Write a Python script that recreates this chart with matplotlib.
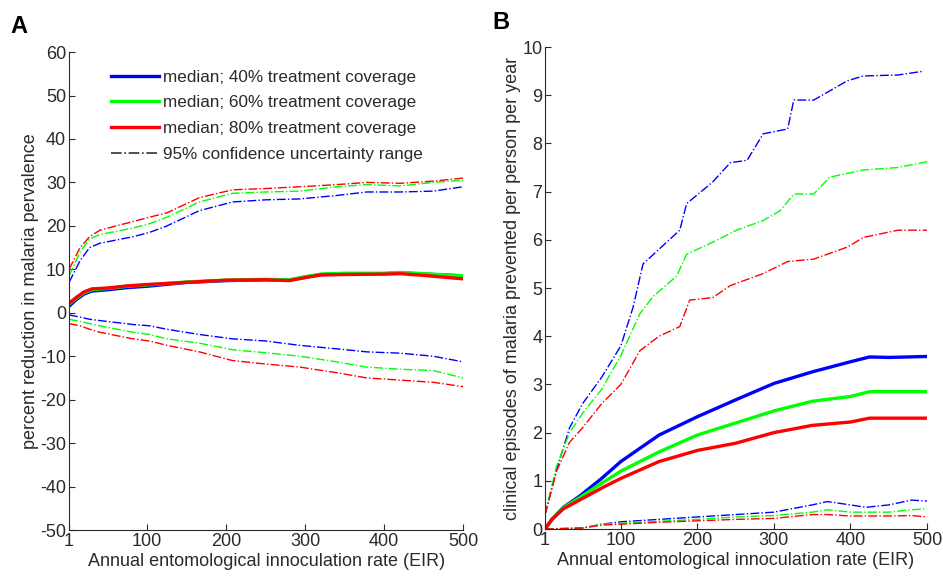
import numpy as np
import matplotlib.pyplot as plt

plt.rcParams['font.family'] = ['Liberation Sans', 'DejaVu Sans']
plt.rcParams['axes.unicode_minus'] = False

# ===== Panel A: percent reduction in prevalence =====
eir_a_med = [1, 10, 20, 30, 50, 75, 100, 150, 200, 250, 280, 300, 320, 350, 400, 420, 450, 500]
a_med_40 = [1.5, 3.0, 4.3, 5.0, 5.3, 5.8, 6.1, 7.0, 7.4, 7.6, 7.5, 8.2, 8.8, 9.0, 9.0, 9.2, 8.9, 8.5]
a_med_60 = [2.0, 3.3, 4.6, 5.3, 5.6, 6.1, 6.4, 7.1, 7.5, 7.7, 7.6, 8.3, 8.9, 9.1, 9.1, 9.3, 9.0, 8.5]
a_med_80 = [2.2, 3.5, 4.8, 5.5, 5.7, 6.2, 6.5, 7.0, 7.5, 7.6, 7.4, 8.1, 8.7, 8.8, 8.9, 9.0, 8.6, 7.8]

eir_a_ci = [1, 15, 27, 40, 82, 103, 125, 166, 208, 250, 293, 340, 378, 420, 462, 500]
a_hi_40 = [7.0, 12.0, 15.0, 16.0, 17.5, 18.5, 20.0, 23.5, 25.5, 26.0, 26.2, 27.0, 27.8, 27.8, 28.0, 29.0]
a_hi_60 = [8.5, 14.0, 17.0, 18.0, 19.5, 20.5, 22.0, 25.5, 27.5, 27.8, 28.0, 29.0, 29.5, 29.2, 30.0, 30.5]
a_hi_80 = [10.0, 15.0, 17.5, 19.0, 21.0, 22.0, 23.0, 26.5, 28.3, 28.6, 29.0, 29.5, 30.0, 29.8, 30.3, 31.0]
a_lo_40 = [-0.5, -1.0, -1.5, -1.8, -2.7, -3.0, -3.8, -5.0, -6.0, -6.5, -7.5, -8.3, -9.0, -9.3, -10.0, -11.3]
a_lo_60 = [-1.5, -2.0, -2.5, -3.0, -4.5, -5.0, -6.0, -7.0, -8.5, -9.2, -10.0, -11.3, -12.5, -13.0, -13.3, -15.0]
a_lo_80 = [-2.5, -3.0, -3.8, -4.5, -6.0, -6.5, -7.5, -9.0, -11.0, -11.8, -12.5, -13.8, -15.0, -15.5, -16.0, -17.0]

# ===== Panel B: clinical episodes prevented =====
eir_b_med = [1, 10, 25, 46, 75, 100, 150, 200, 250, 300, 350, 400, 425, 450, 500]
b_med_40 = [0.0, 0.2, 0.45, 0.68, 1.05, 1.4, 1.95, 2.33, 2.68, 3.02, 3.26, 3.47, 3.57, 3.56, 3.58]
b_med_60 = [0.0, 0.2, 0.44, 0.65, 0.95, 1.2, 1.6, 1.95, 2.2, 2.45, 2.65, 2.75, 2.85, 2.85, 2.85]
b_med_80 = [0.0, 0.2, 0.42, 0.6, 0.85, 1.05, 1.4, 1.63, 1.78, 2.0, 2.15, 2.22, 2.3, 2.3, 2.3]

eir_b_hi40 = [1, 16, 33, 50, 75, 100, 116, 129, 177, 186, 220, 243, 265, 286, 318, 326, 352, 396, 417, 462, 496]
b_hi_40 = [0.3, 1.23, 2.1, 2.6, 3.15, 3.8, 4.6, 5.5, 6.2, 6.75, 7.2, 7.6, 7.65, 8.2, 8.3, 8.9, 8.9, 9.3, 9.4, 9.42, 9.5]
eir_b_hi60 = [1, 16, 33, 50, 75, 100, 125, 142, 173, 186, 220, 251, 286, 308, 326, 352, 373, 417, 462, 500]
b_hi_60 = [0.3, 1.3, 2.0, 2.4, 2.9, 3.6, 4.47, 4.82, 5.25, 5.7, 5.95, 6.2, 6.4, 6.6, 6.95, 6.95, 7.3, 7.45, 7.5, 7.62]
eir_b_hi80 = [1, 16, 33, 50, 75, 100, 125, 150, 177, 190, 220, 243, 286, 318, 352, 396, 417, 462, 500]
b_hi_80 = [0.3, 1.2, 1.8, 2.1, 2.6, 3.0, 3.7, 4.0, 4.2, 4.75, 4.8, 5.05, 5.3, 5.55, 5.6, 5.85, 6.05, 6.2, 6.2]

eir_b_lo = [1, 50, 75, 100, 150, 200, 250, 300, 350, 370, 400, 420, 450, 480, 500]
b_lo_40 = [0.0, 0.02, 0.1, 0.15, 0.2, 0.25, 0.3, 0.35, 0.5, 0.57, 0.5, 0.45, 0.5, 0.6, 0.58]
b_lo_60 = [0.0, 0.02, 0.1, 0.12, 0.16, 0.2, 0.25, 0.28, 0.35, 0.4, 0.35, 0.35, 0.35, 0.4, 0.42]
b_lo_80 = [0.0, 0.02, 0.08, 0.1, 0.14, 0.17, 0.2, 0.22, 0.3, 0.3, 0.27, 0.27, 0.27, 0.28, 0.25]

blue, green, red = '#0000ff', '#00ff00', '#ff0000'
txt = '#2a2a2a'
med_lw = 2.4
ci_lw = 1.0
fs = 13

fig = plt.figure(figsize=(9.43, 5.8), dpi=100)
axA = fig.add_axes([0.0732, 0.0862, 0.418, 0.824])
axB = fig.add_axes([0.578, 0.0879, 0.405, 0.831])


def style(ax):
    ax.spines['top'].set_visible(False)
    ax.spines['right'].set_visible(False)
    ax.tick_params(direction='in', length=4, labelsize=fs, colors=txt, pad=2)
    for s in ['left', 'bottom']:
        ax.spines[s].set_color(txt)


# --- A ---
for hi, lo, c in [(a_hi_40, a_lo_40, blue), (a_hi_60, a_lo_60, green), (a_hi_80, a_lo_80, red)]:
    axA.plot(eir_a_ci, hi, color=c, linestyle='-.', linewidth=ci_lw)
    axA.plot(eir_a_ci, lo, color=c, linestyle='-.', linewidth=ci_lw)
lines = []
for y, c, lab in [(a_med_40, blue, 'median; 40% treatment coverage'),
                  (a_med_60, green, 'median; 60% treatment coverage'),
                  (a_med_80, red, 'median; 80% treatment coverage')]:
    l, = axA.plot(eir_a_med, y, color=c, linewidth=med_lw, label=lab)
    lines.append(l)
l, = axA.plot([], [], color='#333333', linestyle='-.', linewidth=1.2,
              label='95% confidence uncertainty range')
lines.append(l)
axA.legend(handles=lines, loc='upper left', bbox_to_anchor=(0.068, 0.995), frameon=False,
           fontsize=12.3, handlelength=2.8, handletextpad=0.25, labelspacing=0.62,
           labelcolor=txt)
axA.set_xlim(1, 500)
axA.set_ylim(-50, 60)
axA.set_xticks([1, 100, 200, 300, 400, 500])
axA.set_yticks(np.arange(-50, 61, 10))
axA.set_xlabel('Annual entomological innoculation rate (EIR)', fontsize=fs, color=txt, labelpad=2)
axA.set_ylabel('percent reduction in malaria pervalence', fontsize=fs, color=txt, labelpad=1)
style(axA)

# --- B ---
axB.plot(eir_b_hi40, b_hi_40, color=blue, linestyle='-.', linewidth=ci_lw)
axB.plot(eir_b_hi60, b_hi_60, color=green, linestyle='-.', linewidth=ci_lw)
axB.plot(eir_b_hi80, b_hi_80, color=red, linestyle='-.', linewidth=ci_lw)
for lo, c in [(b_lo_40, blue), (b_lo_60, green), (b_lo_80, red)]:
    axB.plot(eir_b_lo, lo, color=c, linestyle='-.', linewidth=ci_lw)
for y, c in [(b_med_40, blue), (b_med_60, green), (b_med_80, red)]:
    axB.plot(eir_b_med, y, color=c, linewidth=med_lw)
axB.set_xlim(1, 500)
axB.set_ylim(0, 10)
axB.set_xticks([1, 100, 200, 300, 400, 500])
axB.set_yticks(np.arange(0, 11, 1))
axB.set_xlabel('Annual entomological innoculation rate (EIR)', fontsize=fs, color=txt, labelpad=2)
axB.set_ylabel('clinical episodes of malaria prevented per person per year', fontsize=fs,
               color=txt, labelpad=1)
style(axB)

fig.text(0.011, 0.955, 'A', fontsize=17, fontweight='bold', va='center')
fig.text(0.522, 0.962, 'B', fontsize=17, fontweight='bold', va='center')

fig.savefig('out.png', dpi=100)
